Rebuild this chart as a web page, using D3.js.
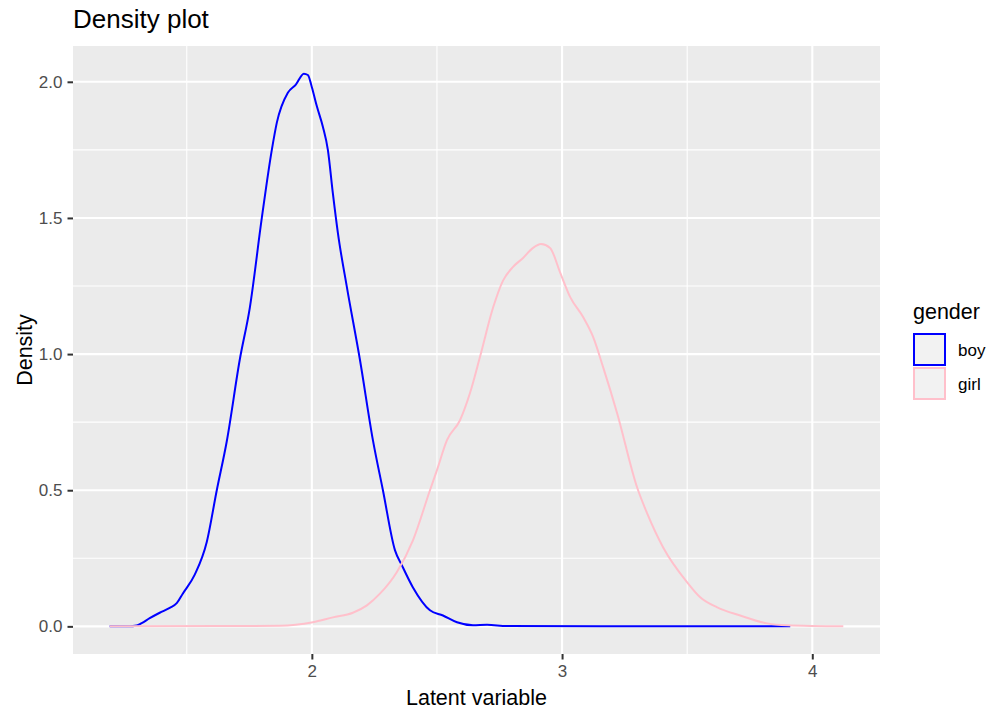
<!DOCTYPE html>
<html><head><meta charset="utf-8">
<script src="https://cdn.jsdelivr.net/npm/d3@7"></script>
<style>body{margin:0;background:#fff;} text{font-family:"Liberation Sans",Arial,sans-serif;}</style>
</head><body><svg id="c" width="1008" height="720"></svg>
<script>
const groups = ["boy","girl"];
const groupColors = ["#0000FF","#FFC0CB"];
const boyX = [1.192,1.27,1.30,1.32,1.352,1.392,1.432,1.46,1.484,1.532,1.58,1.62,1.66,1.712,1.752,1.80,1.84,1.86,1.904,1.936,1.968,1.984,2.0,2.02,2.044,2.064,2.084,2.104,2.14,2.192,2.244,2.284,2.332,2.36,2.404,2.472,2.524,2.58,2.644,2.70,2.78,3.152,3.912];
const boyY = [0,0.0,0.003,0.012,0.03,0.05,0.068,0.085,0.12,0.19,0.31,0.50,0.68,0.98,1.17,1.50,1.75,1.85,1.96,1.99,2.03,2.025,1.98,1.91,1.835,1.75,1.59,1.445,1.246,0.98,0.684,0.50,0.28,0.224,0.143,0.059,0.04,0.015,0.004,0.006,0.001,0,0];
const girlX = [1.192,1.872,2.004,2.084,2.164,2.22,2.272,2.34,2.404,2.472,2.50,2.54,2.592,2.632,2.672,2.724,2.764,2.804,2.844,2.884,2.916,2.952,2.992,3.032,3.084,3.124,3.164,3.22,3.30,3.34,3.404,3.50,3.552,3.62,3.712,3.82,3.90,4.124];
const girlY = [0,0.002,0.015,0.033,0.05,0.077,0.12,0.2,0.316,0.5,0.574,0.684,0.757,0.857,0.99,1.17,1.27,1.32,1.353,1.39,1.404,1.39,1.30,1.21,1.136,1.063,0.952,0.783,0.51,0.415,0.29,0.162,0.107,0.07,0.04,0.011,0.004,0];
const xTicks = [2,3,4];
const xMinor = [1.5,2.5,3.5];
const yTicks = [0,0.5,1.0,1.5,2.0];
const yMinor = [0.25,0.75,1.25,1.75];

const svg = d3.select("#c");
const P = {l:73, r:880, t:46, b:654};
const x = d3.scaleLinear().domain([1.192 - 0.1466, 4.124 + 0.1466]).range([P.l, P.r]);
const y = d3.scaleLinear().domain([-0.1015, 2.1315]).range([P.b, P.t]);

svg.append("rect").attr("x",P.l).attr("y",P.t).attr("width",P.r-P.l).attr("height",P.b-P.t).attr("fill","#ebebeb");
const g = svg.append("g");
xMinor.forEach(v=>g.append("line").attr("x1",x(v)).attr("x2",x(v)).attr("y1",P.t).attr("y2",P.b).attr("stroke","#fff").attr("stroke-width",1.1));
yMinor.forEach(v=>g.append("line").attr("y1",y(v)).attr("y2",y(v)).attr("x1",P.l).attr("x2",P.r).attr("stroke","#fff").attr("stroke-width",1.1));
xTicks.forEach(v=>g.append("line").attr("x1",x(v)).attr("x2",x(v)).attr("y1",P.t).attr("y2",P.b).attr("stroke","#fff").attr("stroke-width",2.1));
yTicks.forEach(v=>g.append("line").attr("y1",y(v)).attr("y2",y(v)).attr("x1",P.l).attr("x2",P.r).attr("stroke","#fff").attr("stroke-width",2.1));

const line = d3.line().x(d=>x(d[0])).y(d=>y(d[1])).curve(d3.curveMonotoneX);
const series = [d3.zip(boyX, boyY), d3.zip(girlX, girlY)];
series.forEach((s,i)=>{
  svg.append("path").attr("d", line(s)).attr("fill","none").attr("stroke",groupColors[i]).attr("stroke-width",2);
});

// axes
const xa = svg.append("g").attr("transform",`translate(0,${P.b})`).call(d3.axisBottom(x).tickValues(xTicks).tickFormat(d3.format("d")).tickSize(5.5).tickPadding(5));
const ya = svg.append("g").attr("transform",`translate(${P.l},0)`).call(d3.axisLeft(y).tickValues(yTicks).tickFormat(d3.format(".1f")).tickSize(5.5).tickPadding(5));
[xa,ya].forEach(a=>{
  a.select(".domain").remove();
  a.selectAll(".tick line").attr("stroke","#333").attr("stroke-width",2);
  a.selectAll(".tick text").attr("fill","#4d4d4d").style("font-size","17px").style("font-family","Liberation Sans, Arial, sans-serif");
});

svg.append("text").attr("x",73).attr("y",28).text("Density plot").style("font-size","26px").attr("fill","#000");
svg.append("text").attr("x",(P.l+P.r)/2).attr("y",705).attr("text-anchor","middle").text("Latent variable").style("font-size","21.5px");
svg.append("text").attr("transform",`translate(32,${(P.t+P.b)/2}) rotate(-90)`).attr("text-anchor","middle").text("Density").style("font-size","21.5px");

// legend
svg.append("text").attr("x",913).attr("y",319).text("gender").style("font-size","21.5px");
groups.forEach((gname,i)=>{
  const yy = 333 + i*34;
  svg.append("rect").attr("x",914).attr("y",yy+1).attr("width",31).attr("height",31).attr("fill","#f2f2f2").attr("stroke",groupColors[i]).attr("stroke-width",2);
  svg.append("text").attr("x",958).attr("y",yy+23).text(gname).style("font-size","17px");
});
</script></body></html>
